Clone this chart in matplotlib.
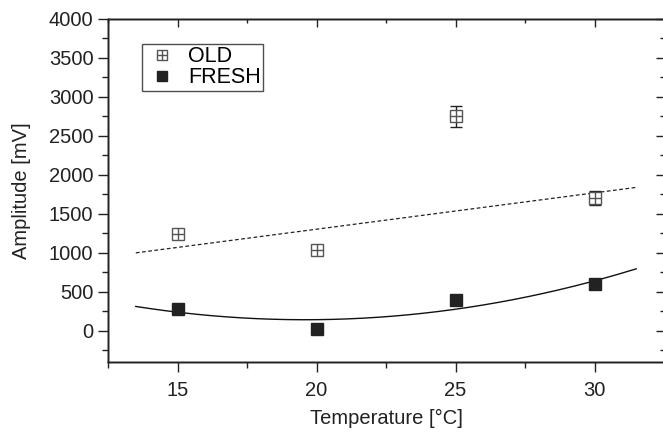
import numpy as np
import matplotlib
matplotlib.use("Agg")
import matplotlib.pyplot as plt
from matplotlib.ticker import MultipleLocator

plt.rcParams['font.family'] = ['Liberation Sans', 'DejaVu Sans']

# data
temps = [15, 20, 25, 30]
old_amp = [1240, 1040, 2750, 1700]
old_err = [50, 40, 130, 90]
fresh_amp = [280, 20, 400, 600]

# linear trend for OLD (end points)
old_fit_x = [13.5, 31.5]
old_fit_y = [1000, 1840]
fit_range = (13.5, 31.5)

FS = 14.5
INK = '#222222'

fig = plt.figure(figsize=(6.63, 4.33), dpi=100)
rect = [108 / 663, 1 - 362 / 433, 556 / 663, 343 / 433]
ax = fig.add_axes(rect)

# fits
ax.plot(old_fit_x, old_fit_y, ls=(0, (3, 2)), color=INK, lw=0.9)
coef = np.polyfit(temps, fresh_amp, 2)
xs = np.linspace(fit_range[0], fit_range[1], 200)
ax.plot(xs, np.polyval(coef, xs), color='#111111', lw=1.0)

# OLD points: square with a cross
ax.errorbar(temps, old_amp, yerr=old_err, fmt='none', ecolor=INK,
            elinewidth=1.0, capsize=4, capthick=1.0, zorder=3)
ax.plot(temps, old_amp, 's', ms=8, mfc='white', mec='#555555', mew=1.0,
        ls='none', zorder=4)
ax.plot(temps, old_amp, '+', ms=8, mec='#555555', mew=1.0, ls='none', zorder=5)
# FRESH points
ax.plot(temps, fresh_amp, 's', ms=8, color=INK, ls='none', zorder=4)

# legend built from proxy handles
h_old_sq, = ax.plot([], [], 's', ms=6.5, mfc='white', mec='#555555', mew=1.0)
h_old_pl, = ax.plot([], [], '+', ms=6.5, mec='#555555', mew=1.0)
h_fresh, = ax.plot([], [], 's', ms=7.5, color=INK)
leg = ax.legend([(h_old_sq, h_old_pl), h_fresh], ['OLD', 'FRESH'],
                loc='upper left', bbox_to_anchor=(0.062, 0.928),
                fontsize=15.5, frameon=True, fancybox=False, edgecolor=INK,
                handlelength=1.6, handletextpad=0.4, borderpad=0.12,
                labelspacing=0.0, borderaxespad=0)
leg.get_frame().set_linewidth(1.0)

ax.set_xlim(12.5, 32.5)
ax.set_ylim(-400, 4000)
ax.xaxis.set_major_locator(MultipleLocator(5))
ax.xaxis.set_minor_locator(MultipleLocator(2.5))
ax.yaxis.set_major_locator(MultipleLocator(500))
ax.yaxis.set_minor_locator(MultipleLocator(250))

ax.tick_params(which='both', direction='out', labelsize=FS, colors=INK)
ax.tick_params(which='major', length=7, width=1.0)
ax.tick_params(which='minor', length=4, width=1.0)
ax.tick_params(axis='x', which='major', pad=7)

# mirrored inward ticks on top and right
top = ax.twiny()
top.set_xlim(ax.get_xlim())
top.xaxis.set_major_locator(MultipleLocator(5))
top.xaxis.set_minor_locator(MultipleLocator(2.5))
top.tick_params(which='both', direction='in', labeltop=False, colors=INK)
top.tick_params(which='major', length=6, width=1.0)
top.tick_params(which='minor', length=3, width=1.0)
right = ax.twinx()
right.set_ylim(ax.get_ylim())
right.yaxis.set_major_locator(MultipleLocator(500))
right.yaxis.set_minor_locator(MultipleLocator(250))
right.tick_params(which='both', direction='in', labelright=False, colors=INK)
right.tick_params(which='major', length=6, width=1.0)
right.tick_params(which='minor', length=3, width=1.0)

for a in (ax, top, right):
    for s in a.spines.values():
        s.set_linewidth(1.0)
        s.set_color(INK)

ax.set_xlabel('Temperature [°C]', fontsize=FS, color=INK, labelpad=6)
ax.set_ylabel('Amplitude [mV]', fontsize=FS, color=INK, labelpad=13)

fig.savefig('out.png', dpi=100)
